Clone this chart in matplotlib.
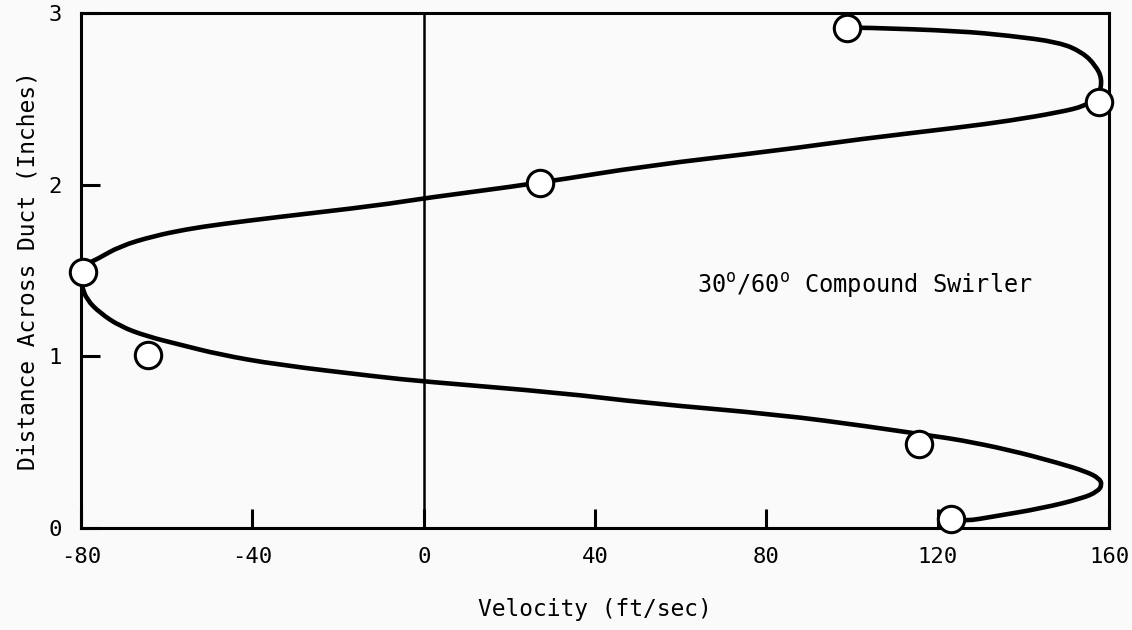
import matplotlib
matplotlib.use("Agg")
import matplotlib.pyplot as plt
from matplotlib.path import Path
from matplotlib.patches import PathPatch

plt.rcParams['font.family'] = ['DejaVu Sans Mono', 'DejaVu Sans']
plt.rcParams['mathtext.fontset'] = 'custom'
plt.rcParams['mathtext.rm'] = 'DejaVu Sans Mono'
plt.rcParams['axes.unicode_minus'] = False

# measured points: velocity (ft/sec) vs distance across duct (inches)
meas_vel = [123.1, 115.7, -64.3, -79.5, 27.2, 157.7, 98.8]
meas_dist = [0.05, 0.49, 1.01, 1.49, 2.01, 2.48, 2.91]

# faired profile, traced from the bottom wall to the top wall
fair_vel = [123.0, 126.6, 132.8, 144.4, 153.8, 157.3, 158.4, 157.7, 154.6,
            148.3, 136.7, 125.0, 119.6, 104.0, 83.0, 51.9, 32.5, -0.2,
            -10.3, -34.4, -47.6, -56.9, -64.7, -70.9, -75.6, -78.7, -79.8,
            -80.3, -79.0, -76.3, -70.9, -63.1, -55.4, -47.6, -35.2, -10.3,
            -0.2, 27.2, 51.9, 83.0, 101.7, 125.0, 136.7, 148.3, 154.6,
            157.7, 158.4, 156.9, 153.8, 148.3, 136.7, 125.0, 103.2, 98.8]
fair_dist = [0.045, 0.040, 0.066, 0.115, 0.173, 0.212, 0.251, 0.290, 0.329,
             0.378, 0.455, 0.514, 0.533, 0.591, 0.660, 0.728, 0.786, 0.854,
             0.880, 0.952, 1.010, 1.068, 1.117, 1.175, 1.253, 1.331, 1.409,
             1.480, 1.535, 1.565, 1.642, 1.700, 1.740, 1.769, 1.808, 1.880,
             1.920, 2.010, 2.110, 2.200, 2.265, 2.333, 2.372, 2.421, 2.459,
             2.520, 2.615, 2.693, 2.771, 2.830, 2.868, 2.895, 2.915, 2.915]

x_ticks = [-80, -40, 0, 40, 80, 120, 160]
y_ticks = [0, 1, 2, 3]

fig = plt.figure(figsize=(11.32, 6.3), dpi=100)
fig.patch.set_facecolor('#fafafa')
ax = fig.add_axes([0.0716, 0.1619, 0.9081, 0.8175])
ax.set_facecolor('#fafafa')

ax.axvline(0, color='black', lw=1.8, zorder=1)

# smooth the faired line with quadratic segments: each traced point is a
# control point, the curve runs through the midpoints between them
pts = list(zip(fair_vel, fair_dist))
verts = [pts[0]]
codes = [Path.MOVETO]
for a, b in zip(pts[1:-2], pts[2:-1]):
    verts += [a, ((a[0] + b[0]) / 2, (a[1] + b[1]) / 2)]
    codes += [Path.CURVE3, Path.CURVE3]
verts += [pts[-2], pts[-1]]
codes += [Path.CURVE3, Path.CURVE3]
ax.add_patch(PathPatch(Path(verts, codes), facecolor='none', edgecolor='black',
                       lw=3.3, joinstyle='round', capstyle='round',
                       clip_on=False, zorder=2))

ax.plot(meas_vel, meas_dist, 'o', ms=19, mfc='white', mec='black', mew=2.2,
        clip_on=False, zorder=3)

ax.text(63.7, 1.415, r'30$^\mathrm{o}$/60$^\mathrm{o}$ Compound Swirler',
        fontsize=17, va='center', ha='left')

ax.set_xlim(-80, 160)
ax.set_ylim(0, 3)
ax.set_xticks(x_ticks)
ax.set_yticks(y_ticks)
ax.tick_params(direction='in', length=13.5, width=2.2, labelsize=16)
ax.tick_params(axis='x', pad=14)
ax.tick_params(axis='y', pad=14)
for s in ax.spines.values():
    s.set_linewidth(2.2)

ax.set_xlabel('Velocity (ft/sec)', fontsize=16.5, labelpad=22)
ax.set_ylabel('Distance Across Duct (Inches)', fontsize=16.5, labelpad=6)

fig.savefig('out.png', dpi=100, facecolor=fig.get_facecolor())
